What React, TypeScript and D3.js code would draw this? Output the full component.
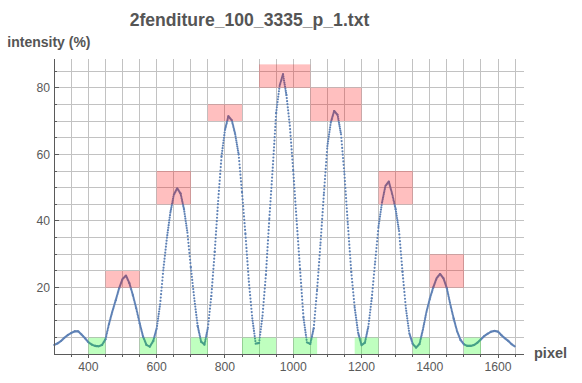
import React from "react";
import * as d3 from "d3";

// x positions of samples: pixel = pixelStart + i * pixelStep
const pixelStart = 300;
const pixelStep = 10;
const intensity = [
  2.8, 3.3, 4.0, 5.0, 5.8, 6.4, 6.9, 6.9, 5.9, 4.8,
  3.6, 2.9, 2.5, 2.4, 2.8, 4.5, 9.0, 12.8, 16.2, 19.8,
  22.6, 23.6, 21.3, 17.8, 13.8, 9.3, 5.3, 2.8, 2.3, 4.0,
  7.8, 15.0, 26.0, 35.0, 42.5, 47.8, 49.8, 48.2, 43.5, 36.5,
  26.0, 16.8, 8.5, 3.8, 2.9, 8.0, 17.5, 30.8, 46.0, 59.5,
  67.3, 71.4, 70.2, 66.0, 60.0, 48.5, 36.0, 21.8, 10.8, 3.2,
  3.4, 11.6, 24.0, 40.8, 56.0, 72.5, 80.5, 84.0, 77.8, 68.6,
  55.0, 40.0, 25.5, 11.0, 3.6, 3.1, 7.8, 19.5, 33.5, 48.5,
  62.5, 69.5, 73.0, 71.8, 66.0, 54.0, 39.0, 24.7, 14.0, 6.5,
  2.7, 3.5, 8.3, 16.8, 27.8, 38.5, 45.5, 50.5, 51.8, 48.0,
  43.5, 37.0, 24.8, 13.8, 6.3, 3.1, 2.0, 3.1, 7.5, 12.6,
  16.6, 20.0, 22.8, 24.1, 22.8, 19.8, 15.0, 10.7, 6.9, 4.3,
  3.0, 2.5, 2.5, 2.8, 3.5, 4.5, 5.5, 6.2, 6.8, 7.0,
  6.8, 5.7, 4.8, 4.0, 3.0, 2.3,
];

// [pixelFrom, pixelTo, intensityFrom, intensityTo]
const peakBoxes = [
  [450, 550, 20, 25],
  [600, 700, 45, 55],
  [750, 850, 70, 75],
  [900, 1050, 80, 87],
  [1050, 1200, 70, 80],
  [1250, 1350, 45, 55],
  [1400, 1500, 20, 30],
];
const troughBoxes = [
  [400, 450, 0, 5],
  [550, 600, 0, 5],
  [700, 750, 0, 5],
  [850, 950, 0, 5],
  [1000, 1070, 0, 5],
  [1180, 1250, 0, 5],
  [1350, 1400, 0, 5],
  [1500, 1550, 0, 5],
];

const xTickLabels = [400, 600, 800, 1000, 1200, 1400, 1600];
const yTickLabels = [20, 40, 60, 80];

const FONT = "'Liberation Sans', Arial, sans-serif";

export default function App() {
  const W = 582;
  const H = 383;
  const x = d3.scaleLinear().domain([300, 1676]).range([54.3, 524]);
  const y = d3.scaleLinear().domain([0, 88.7]).range([354.3, 58.7]);

  const data: [number, number][] = intensity.map((v, i) => [pixelStart + i * pixelStep, v]);
  const segments = d3.pairs(data).map(([a, b]) => {
    const xa = x(a[0]);
    const ya = y(a[1]);
    const xb = x(b[0]);
    const yb = y(b[1]);
    const len = Math.hypot(xb - xa, yb - ya);
    return { xa, ya, xb, yb, gap: Math.min(3.4, Math.max(0.6, len / 10)) };
  });

  const vGrid = d3.range(350, 1651, 50);
  const hGrid = d3.range(5, 86, 5);
  const xMinor = d3.range(350, 1676, 50);
  const yMinor = d3.range(5, 88, 5);

  const x0 = x(300);
  const x1 = x(1676);
  const y0 = y(0);
  const yTop = y(88.7);

  return (
    <svg width={W} height={H} style={{ position: "absolute", left: 0, top: 0 }}>
      <rect x={0} y={0} width={W} height={H} fill="#fff" />
      <g stroke="#c2c2c2" strokeWidth={1} shapeRendering="crispEdges">
        {vGrid.map((v) => (
          <line key={"vg" + v} x1={x(v)} x2={x(v)} y1={y0} y2={yTop} />
        ))}
        {hGrid.map((v) => (
          <line key={"hg" + v} x1={x0} x2={x1} y1={y(v)} y2={y(v)} />
        ))}
      </g>

      <g stroke="#5e81b5" strokeWidth={2.2} strokeLinecap="round" fill="none">
        {segments.map((s, i) => (
          <line
            key={"seg" + i}
            x1={s.xa}
            y1={s.ya}
            x2={s.xb}
            y2={s.yb}
            strokeDasharray={`0 ${s.gap.toFixed(3)}`}
          />
        ))}
      </g>

      {peakBoxes.map((b, i) => (
        <rect
          key={"pb" + i}
          x={x(b[0])}
          y={y(b[3])}
          width={x(b[1]) - x(b[0])}
          height={y(b[2]) - y(b[3])}
          fill="rgba(255,0,0,0.25)"
        />
      ))}
      {troughBoxes.map((b, i) => (
        <rect
          key={"tb" + i}
          x={x(b[0])}
          y={y(b[3])}
          width={x(b[1]) - x(b[0])}
          height={y(b[2]) - y(b[3])}
          fill="rgba(0,255,0,0.25)"
        />
      ))}

      <g stroke="#5a5a5a" strokeWidth={1} shapeRendering="crispEdges">
        <line x1={x0} x2={x1} y1={y0} y2={y0} />
        <line x1={x0} x2={x0} y1={y0} y2={yTop} />
        {xMinor.map((v) => (
          <line
            key={"xt" + v}
            x1={x(v)}
            x2={x(v)}
            y1={y0}
            y2={y0 + (xTickLabels.includes(v) ? 4 : 2.5)}
          />
        ))}
        {yMinor.map((v) => (
          <line
            key={"yt" + v}
            x1={x0}
            x2={x0 + (yTickLabels.includes(v) ? 4.3 : 2.6)}
            y1={y(v)}
            y2={y(v)}
          />
        ))}
      </g>

      <g fontFamily={FONT} fontSize={12.2} fill="#5a5a5a">
        {xTickLabels.map((v) => (
          <text key={"xl" + v} x={x(v)} y={371} textAnchor="middle">
            {v}
          </text>
        ))}
        {yTickLabels.map((v) => (
          <text key={"yl" + v} x={50} y={y(v)} dy="0.35em" textAnchor="end">
            {v}
          </text>
        ))}
      </g>

      <text
        x={249.5}
        y={26}
        textAnchor="middle"
        fontFamily={FONT}
        fontWeight="bold"
        fontSize={17.6}
        fill="#555"
      >
        2fenditure_100_3335_p_1.txt
      </text>
      <text x={7.3} y={47} fontFamily={FONT} fontWeight="bold" fontSize={14} fill="#555">
        intensity (%)
      </text>
      <text x={534} y={358} fontFamily={FONT} fontWeight="bold" fontSize={14.5} fill="#555">
        pixel
      </text>
    </svg>
  );
}
